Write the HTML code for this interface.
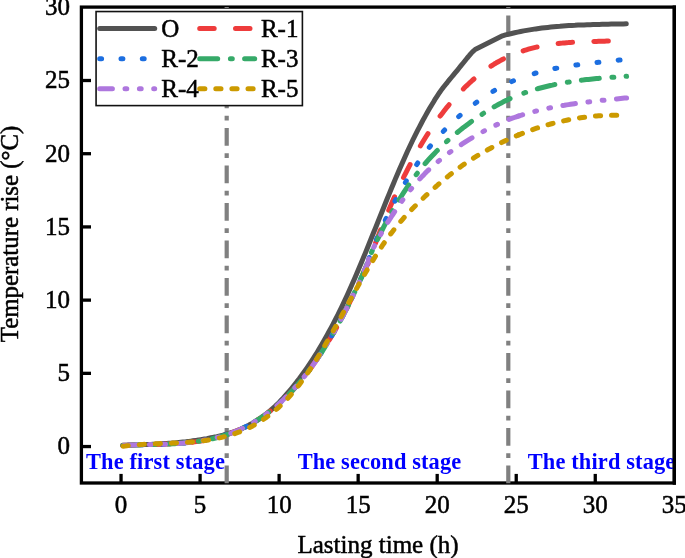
<!DOCTYPE html>
<html><head><meta charset="utf-8"><style>
html,body{margin:0;padding:0;background:#fff;}
svg{display:block;will-change:transform;}
</style></head><body>
<svg width="685" height="558" viewBox="0 0 685 558">
<rect width="685" height="558" fill="#fff"/>
<rect x="81.4" y="7.1" width="592.9" height="475.9" fill="none" stroke="#000" stroke-width="3.3"/>
<line x1="226.7" y1="483.2" x2="226.7" y2="7" stroke="#808080" stroke-width="4.2" stroke-dasharray="17.6 7.6 4.7 7.6"/>
<line x1="508.3" y1="483.2" x2="508.3" y2="7" stroke="#808080" stroke-width="4.2" stroke-dasharray="17.6 7.6 4.7 7.6"/>
<path d="M122.7,445.6 L124.7,445.5 L126.7,445.4 L128.7,445.3 L130.7,445.2 L132.7,445.1 L134.7,445.0 L136.7,445.0 L138.7,444.9 L140.7,444.8 L142.8,444.7 L144.8,444.6 L146.8,444.6 L148.8,444.5 L150.8,444.4 L152.8,444.3 L154.8,444.2 L156.8,444.1 L158.8,444.0 L160.8,443.9 L162.8,443.7 L164.8,443.6 L166.8,443.5 L168.8,443.3 L170.8,443.2 L172.8,443.0 L174.8,442.9 L176.8,442.7 L178.8,442.5 L180.8,442.3 L182.9,442.1 L184.9,441.9 L186.9,441.6 L188.9,441.4 L190.9,441.1 L192.9,440.8 L194.9,440.6 L196.9,440.3 L198.9,439.9 L200.9,439.6 L202.9,439.3 L204.9,438.9 L206.9,438.6 L208.9,438.2 L210.9,437.8 L212.9,437.4 L214.9,437.0 L216.9,436.6 L218.9,436.1 L221.0,435.6 L223.0,435.1 L225.0,434.5 L227.0,434.0 L229.0,433.4 L231.0,432.7 L233.0,432.0 L235.0,431.3 L237.0,430.6 L239.0,429.8 L241.0,429.0 L243.0,428.1 L245.0,427.1 L247.0,426.2 L249.0,425.1 L251.0,424.1 L253.0,422.9 L255.0,421.7 L257.0,420.5 L259.1,419.2 L261.1,417.8 L263.1,416.4 L265.1,414.9 L267.1,413.3 L269.1,411.6 L271.1,409.9 L273.1,408.1 L275.1,406.3 L277.1,404.4 L279.1,402.4 L281.1,400.3 L283.1,398.2 L285.1,396.0 L287.1,393.7 L289.1,391.4 L291.1,389.0 L293.1,386.5 L295.1,384.0 L297.1,381.4 L299.2,378.8 L301.2,376.1 L303.2,373.3 L305.2,370.5 L307.2,367.6 L309.2,364.6 L311.2,361.6 L313.2,358.5 L315.2,355.4 L317.2,352.2 L319.2,348.9 L321.2,345.5 L323.2,342.1 L325.2,338.6 L327.2,335.0 L329.2,331.3 L331.2,327.6 L333.2,323.8 L335.2,319.9 L337.3,316.0 L339.3,311.9 L341.3,307.8 L343.3,303.6 L345.3,299.3 L347.3,295.0 L349.3,290.5 L351.3,286.0 L353.3,281.5 L355.3,276.9 L357.3,272.2 L359.3,267.5 L361.3,262.7 L363.3,257.9 L365.3,253.1 L367.3,248.2 L369.3,243.2 L371.3,238.3 L373.3,233.3 L375.4,228.3 L377.4,223.3 L379.4,218.2 L381.4,213.2 L383.4,208.2 L385.4,203.2 L387.4,198.3 L389.4,193.4 L391.4,188.5 L393.4,183.7 L395.4,178.9 L397.4,174.2 L399.4,169.5 L401.4,164.9 L403.4,160.4 L405.4,155.9 L407.4,151.5 L409.4,147.2 L411.4,143.0 L413.4,138.8 L415.5,134.7 L417.5,130.7 L419.5,126.8 L421.5,123.0 L423.5,119.2 L425.5,115.6 L427.5,112.0 L429.5,108.6 L431.5,105.2 L433.5,102.0 L435.5,98.6 L437.5,95.6 L439.4,92.7 L441.4,89.9 L443.4,87.2 L445.4,84.7 L447.4,82.3 L449.3,79.9 L451.3,77.5 L453.3,75.1 L455.3,72.7 L457.3,70.3 L459.3,67.8 L461.2,65.4 L463.2,63.0 L465.2,60.5 L467.2,58.0 L469.2,55.7 L471.1,53.4 L473.1,51.3 L475.1,49.5 L502.5,35.8 L505.5,34.9 L508.5,34.2 L511.6,33.5 L514.6,32.8 L517.6,32.1 L520.6,31.5 L523.6,30.9 L526.7,30.4 L529.7,29.9 L532.7,29.4 L535.7,28.9 L538.7,28.5 L541.8,28.1 L544.8,27.7 L547.8,27.4 L550.8,27.1 L553.8,26.8 L556.9,26.5 L559.9,26.3 L562.9,26.0 L565.9,25.8 L568.9,25.6 L571.9,25.4 L575.0,25.3 L578.0,25.1 L581.0,25.0 L584.0,24.9 L587.0,24.8 L590.1,24.7 L593.1,24.6 L596.1,24.5 L599.1,24.4 L602.1,24.3 L605.2,24.3 L608.2,24.2 L611.2,24.1 L614.2,24.1 L617.2,24.0 L620.3,23.9 L623.3,23.9 L626.3,23.8" fill="none" stroke="#525252" stroke-width="5" stroke-linecap="round" stroke-linejoin="round"/>
<path d="M122.7,445.3 L124.7,445.2 L126.7,445.2 L128.7,445.1 L130.7,445.0 L132.7,444.9 L134.7,444.9 L136.7,444.8 L138.7,444.8 L140.6,444.7 L142.6,444.7 L144.6,444.6 L146.6,444.6 L148.6,444.6 L150.6,444.5 L152.6,444.5 L154.6,444.4 L156.6,444.4 L158.6,444.3 L160.6,444.3 L162.6,444.2 L164.6,444.2 L166.6,444.1 L168.6,444.0 L170.6,443.9 L172.6,443.8 L174.6,443.7 L176.5,443.6 L178.5,443.5 L180.5,443.3 L182.5,443.2 L184.5,443.0 L186.5,442.8 L188.5,442.6 L190.5,442.4 L192.5,442.2 L194.5,441.9 L196.5,441.6 L198.5,441.3 L200.5,441.0 L202.5,440.7 L204.5,440.3 L206.5,440.0 L208.5,439.6 L210.4,439.1 L212.4,438.7 L214.4,438.2 L216.4,437.7 L218.4,437.2 L220.4,436.6 L222.4,436.0 L224.4,435.4 L226.4,434.8 L228.4,434.1 L230.4,433.4 L232.4,432.6 L234.4,431.8 L236.4,431.0 L238.4,430.2 L240.4,429.3 L242.4,428.3 L244.4,427.4 L246.3,426.4 L248.3,425.3 L250.3,424.2 L252.3,423.1 L254.3,422.0 L256.3,420.7 L258.3,419.5 L260.3,418.2 L262.3,416.8 L264.3,415.5 L266.3,414.0 L268.3,412.5 L270.3,411.0 L272.3,409.4 L274.3,407.8 L276.3,406.1 L278.3,404.4 L280.2,402.6 L282.2,400.7 L284.2,398.9 L286.2,396.9 L288.2,394.9 L290.2,392.8 L292.2,390.7 L294.2,388.5 L296.2,386.3 L298.2,384.0 L300.2,381.7 L302.2,379.2 L304.2,376.8 L306.2,374.2 L308.2,371.6 L310.2,368.9 L312.2,366.2 L314.1,363.4 L316.1,360.6 L318.1,357.6 L320.1,354.7 L322.1,351.6 L324.1,348.5 L326.1,345.3 L328.1,342.0 L330.1,338.7 L332.1,335.3 L334.1,331.9 L336.1,328.4 L338.1,324.8 L340.1,321.1 L342.1,317.4 L344.1,313.6 L346.1,309.7 L348.1,305.8 L350.0,301.8 L352.0,297.7 L354.0,293.5 L356.0,289.3 L358.0,285.0 L360.0,280.6 L362.0,276.2 L364.0,271.6 L366.0,267.0 L368.0,263.9 L370.0,258.2 L372.0,252.7 L374.0,247.2 L376.0,241.9 L378.0,236.6 L380.0,231.4 L382.0,226.3 L384.0,221.4 L386.0,216.5 L388.1,211.6 L390.1,206.9 L392.1,202.3 L394.1,197.8 L396.1,193.3 L398.1,188.9 L400.1,184.7 L402.1,180.5 L404.1,176.3 L406.1,172.3 L408.1,168.4 L410.1,164.5 L412.1,160.7 L414.1,157.0 L416.1,153.4 L418.1,149.9 L420.1,146.4 L422.1,143.0 L424.1,139.7 L426.1,136.5 L428.1,133.4 L430.1,130.3 L432.2,127.3 L434.2,124.4 L436.2,121.5 L438.2,118.7 L440.2,116.0 L442.2,113.4 L444.2,110.8 L446.2,108.2 L448.2,105.8 L450.2,103.3 L452.2,101.0 L454.2,98.7 L456.2,96.5 L458.2,94.3 L460.2,92.2 L462.2,90.1 L464.2,88.1 L466.2,86.1 L468.2,84.2 L470.2,82.3 L472.2,80.5 L474.2,78.8 L476.3,77.1 L478.3,75.4 L480.3,73.8 L482.3,72.3 L484.3,70.8 L486.3,69.3 L488.3,67.9 L490.3,66.6 L492.3,65.3 L494.3,64.0 L496.3,62.8 L498.3,61.7 L500.3,60.6 L502.3,59.5 L504.3,58.5 L506.3,57.5 L508.3,56.6 L510.3,55.7 L512.3,54.8 L514.3,54.0 L516.3,53.2 L518.4,52.5 L520.4,51.8 L522.4,51.1 L524.4,50.4 L526.4,49.8 L528.4,49.2 L530.4,48.6 L532.4,48.1 L534.4,47.6 L536.4,47.1 L538.4,46.7 L540.4,46.3 L542.4,45.9 L544.4,45.5 L546.4,45.1 L548.4,44.8 L550.4,44.5 L552.4,44.2 L554.4,43.9 L556.4,43.7 L558.4,43.5 L560.4,43.2 L562.5,43.1 L564.5,42.9 L566.5,42.7 L568.5,42.6 L570.5,42.4 L572.5,42.3 L574.5,42.2 L576.5,42.1 L578.5,42.0 L580.5,41.9 L582.5,41.8 L584.5,41.7 L586.5,41.7 L588.5,41.6 L590.5,41.5 L592.5,41.5 L594.5,41.4 L596.5,41.4 L598.5,41.3 L600.5,41.3 L602.5,41.2 L604.5,41.2 L606.6,41.1 L608.6,41.1 L610.6,41.0 L612.6,40.9 L614.6,40.9 L616.6,40.8 L618.6,40.7 L620.6,40.6 L622.6,40.5 L624.6,40.4 L626.6,40.3" fill="none" stroke="#ee3c3c" stroke-width="5" stroke-linecap="round" stroke-linejoin="round" stroke-dasharray="14.5 21.3" stroke-dashoffset="3.0"/>
<path d="M122.7,445.3 L124.7,445.2 L126.7,445.2 L128.7,445.1 L130.7,445.0 L132.7,444.9 L134.7,444.9 L136.7,444.8 L138.7,444.8 L140.6,444.7 L142.6,444.7 L144.6,444.6 L146.6,444.6 L148.6,444.6 L150.6,444.5 L152.6,444.5 L154.6,444.4 L156.6,444.4 L158.6,444.3 L160.6,444.3 L162.6,444.2 L164.6,444.2 L166.6,444.1 L168.6,444.0 L170.6,443.9 L172.6,443.8 L174.6,443.7 L176.5,443.6 L178.5,443.5 L180.5,443.3 L182.5,443.2 L184.5,443.0 L186.5,442.8 L188.5,442.6 L190.5,442.4 L192.5,442.2 L194.5,441.9 L196.5,441.6 L198.5,441.3 L200.5,441.0 L202.5,440.7 L204.5,440.3 L206.5,440.0 L208.5,439.6 L210.4,439.1 L212.4,438.7 L214.4,438.2 L216.4,437.7 L218.4,437.2 L220.4,436.6 L222.4,436.0 L224.4,435.4 L226.4,434.7 L228.4,434.1 L230.4,433.4 L232.4,432.6 L234.4,431.8 L236.4,431.0 L238.4,430.2 L240.4,429.3 L242.4,428.3 L244.4,427.4 L246.3,426.4 L248.3,425.3 L250.3,424.2 L252.3,423.1 L254.3,422.0 L256.3,420.7 L258.3,419.5 L260.3,418.2 L262.3,416.8 L264.3,415.5 L266.3,414.0 L268.3,412.5 L270.3,411.0 L272.3,409.4 L274.3,407.8 L276.3,406.1 L278.3,404.4 L280.3,402.6 L282.2,400.7 L284.2,398.8 L286.2,396.9 L288.2,394.9 L290.2,392.8 L292.2,390.7 L294.2,388.5 L296.2,386.3 L298.2,384.0 L300.2,381.6 L302.2,379.2 L304.2,376.7 L306.2,374.2 L308.2,371.6 L310.2,368.9 L312.2,366.2 L314.2,363.4 L316.1,360.6 L318.1,357.6 L320.1,354.6 L322.1,351.6 L324.1,348.5 L326.1,345.3 L328.1,342.0 L330.1,338.7 L332.1,335.3 L334.1,331.9 L336.1,328.4 L338.1,324.8 L340.1,321.1 L342.1,317.4 L344.1,313.6 L346.1,309.7 L348.1,305.8 L350.1,301.7 L352.0,297.7 L354.0,293.5 L356.0,289.3 L358.0,285.0 L360.0,280.6 L362.0,276.1 L364.0,271.6 L366.0,267.0 L368.0,262.3 L370.0,254.7 L372.0,249.9 L374.0,245.2 L376.0,240.6 L378.0,236.0 L380.0,231.6 L382.0,227.2 L384.0,223.0 L386.0,218.8 L388.0,214.7 L390.1,210.6 L392.1,206.7 L394.1,202.8 L396.1,199.1 L398.1,195.4 L400.1,191.7 L402.1,188.2 L404.1,184.7 L406.1,181.3 L408.1,178.0 L410.1,174.7 L412.1,171.6 L414.1,168.5 L416.1,165.4 L418.1,162.5 L420.1,159.6 L422.1,156.8 L424.1,154.1 L426.1,151.5 L428.1,148.9 L430.1,146.4 L432.1,143.9 L434.2,141.5 L436.2,139.2 L438.2,136.9 L440.2,134.7 L442.2,132.5 L444.2,130.4 L446.2,128.4 L448.2,126.4 L450.2,124.4 L452.2,122.5 L454.2,120.6 L456.2,118.8 L458.2,117.0 L460.2,115.3 L462.2,113.6 L464.2,111.9 L466.2,110.2 L468.2,108.6 L470.2,107.1 L472.2,105.5 L474.2,104.0 L476.3,102.5 L478.3,101.1 L480.3,99.7 L482.3,98.3 L484.3,96.9 L486.3,95.6 L488.3,94.3 L490.3,93.0 L492.3,91.8 L494.3,90.6 L496.3,89.4 L498.3,88.3 L500.3,87.2 L502.3,86.1 L504.3,85.1 L506.3,84.1 L508.3,83.2 L510.3,82.2 L512.3,81.3 L514.3,80.5 L516.3,79.7 L518.3,78.9" fill="none" stroke="#1c6ee0" stroke-width="5" stroke-linecap="round" stroke-linejoin="round" stroke-dasharray="1.9 19.4" stroke-dashoffset="3.2"/>
<path d="M518.3,78.9 L520.4,78.1 L522.4,77.4 L524.4,76.7 L526.4,76.0 L528.4,75.4 L530.4,74.7 L532.4,74.1 L534.4,73.5 L536.4,72.9 L538.4,72.4 L540.4,71.9 L542.4,71.4 L544.4,70.9 L546.4,70.4 L548.4,69.9 L550.4,69.5 L552.4,69.1 L554.4,68.6 L556.4,68.2 L558.4,67.9 L560.4,67.5 L562.5,67.1 L564.5,66.8 L566.5,66.5 L568.5,66.1 L570.5,65.8 L572.5,65.5 L574.5,65.2 L576.5,65.0 L578.5,64.7 L580.5,64.4 L582.5,64.2 L584.5,63.9 L586.5,63.7 L588.5,63.4 L590.5,63.2 L592.5,63.0 L594.5,62.8 L596.5,62.5 L598.5,62.3 L600.5,62.1 L602.5,61.9 L604.5,61.7 L606.6,61.5 L608.6,61.2 L610.6,61.0 L612.6,60.8 L614.6,60.6 L616.6,60.4 L618.6,60.1 L620.6,59.9 L622.6,59.7 L624.6,59.4 L626.6,59.2" fill="none" stroke="#1c6ee0" stroke-width="5" stroke-linecap="round" stroke-linejoin="round" stroke-dasharray="1.9 19.4" stroke-dashoffset="4.54"/>
<path d="M122.7,445.3 L124.7,445.2 L126.7,445.2 L128.7,445.1 L130.7,445.0 L132.7,444.9 L134.7,444.9 L136.7,444.8 L138.7,444.8 L140.6,444.7 L142.6,444.7 L144.6,444.6 L146.6,444.6 L148.6,444.6 L150.6,444.5 L152.6,444.5 L154.6,444.4 L156.6,444.4 L158.6,444.3 L160.6,444.3 L162.6,444.2 L164.6,444.2 L166.6,444.1 L168.6,444.0 L170.6,443.9 L172.6,443.8 L174.6,443.7 L176.5,443.6 L178.5,443.5 L180.5,443.3 L182.5,443.2 L184.5,443.0 L186.5,442.8 L188.5,442.6 L190.5,442.4 L192.5,442.2 L194.5,441.9 L196.5,441.6 L198.5,441.3 L200.5,441.0 L202.5,440.7 L204.5,440.3 L206.5,440.0 L208.5,439.6 L210.4,439.1 L212.4,438.7 L214.4,438.2 L216.4,437.7 L218.4,437.2 L220.4,436.6 L222.4,436.0 L224.4,435.4 L226.4,434.8 L228.4,434.1 L230.4,433.4 L232.4,432.6 L234.4,431.8 L236.4,431.0 L238.4,430.2 L240.4,429.3 L242.4,428.3 L244.4,427.4 L246.3,426.4 L248.3,425.3 L250.3,424.2 L252.3,423.1 L254.3,422.0 L256.3,420.7 L258.3,419.5 L260.3,418.2 L262.3,416.8 L264.3,415.5 L266.3,414.0 L268.3,412.5 L270.3,411.0 L272.3,409.4 L274.3,407.8 L276.3,406.1 L278.3,404.4 L280.2,402.6 L282.2,400.7 L284.2,398.9 L286.2,396.9 L288.2,394.9 L290.2,392.8 L292.2,390.7 L294.2,388.5 L296.2,386.3 L298.2,384.0 L300.2,381.7 L302.2,379.2 L304.2,376.8 L306.2,374.2 L308.2,371.6 L310.2,368.9 L312.2,366.2 L314.1,363.4 L316.1,360.6 L318.1,357.6 L320.1,354.7 L322.1,351.6 L324.1,348.5 L326.1,345.3 L328.1,342.0 L330.1,338.7 L332.1,335.3 L334.1,331.9 L336.1,328.4 L338.1,324.8 L340.1,321.1 L342.1,317.4 L344.1,313.6 L346.1,309.7 L348.1,305.8 L350.0,301.8 L352.0,297.7 L354.0,293.5 L356.0,289.3 L358.0,285.0 L360.0,280.6 L362.0,276.2 L364.0,271.6 L366.0,267.0 L368.0,260.2 L370.0,255.7 L372.0,251.2 L374.0,246.8 L376.0,242.6 L378.0,238.4 L380.0,234.3 L382.0,230.3 L384.0,226.4 L386.0,222.6 L388.1,218.9 L390.1,215.2 L392.1,211.7 L394.1,208.2 L396.1,204.8 L398.1,201.5 L400.1,198.2 L402.1,195.0 L404.1,191.9 L406.1,188.9 L408.1,185.9 L410.1,183.1 L412.1,180.2 L414.1,177.5 L416.1,174.8 L418.1,172.2 L420.1,169.7 L422.1,167.2 L424.1,164.8 L426.1,162.5 L428.1,160.2 L430.1,158.0 L432.2,155.8 L434.2,153.7 L436.2,151.6 L438.2,149.6 L440.2,147.7 L442.2,145.7 L444.2,143.8 L446.2,142.0 L448.2,140.2 L450.2,138.4 L452.2,136.7 L454.2,135.0 L456.2,133.3 L458.2,131.7 L460.2,130.1 L462.2,128.5 L464.2,126.9 L466.2,125.4 L468.2,123.9 L470.2,122.4 L472.2,121.0 L474.2,119.6 L476.3,118.2 L478.3,116.8 L480.3,115.4 L482.3,114.1 L484.3,112.8 L486.3,111.5 L488.3,110.3 L490.3,109.1 L492.3,107.9 L494.3,106.7 L496.3,105.6 L498.3,104.5 L500.3,103.4 L502.3,102.4 L504.3,101.3 L506.3,100.4 L508.3,99.4 L510.3,98.5 L512.3,97.6 L514.3,96.8 L516.3,95.9 L518.4,95.1" fill="none" stroke="#36aa69" stroke-width="5" stroke-linecap="round" stroke-linejoin="round" stroke-dasharray="18 12.7 1.9 12.3" stroke-dashoffset="44.8"/>
<path d="M518.4,95.1 L520.4,94.4 L522.4,93.6 L524.4,92.9 L526.4,92.2 L528.4,91.6 L530.4,90.9 L532.4,90.3 L534.4,89.7 L536.4,89.1 L538.4,88.5 L540.4,88.0 L542.4,87.5 L544.4,87.0 L546.4,86.5 L548.4,86.0 L550.4,85.5 L552.4,85.1 L554.4,84.6 L556.4,84.2 L558.4,83.8 L560.4,83.4 L562.5,83.1 L564.5,82.7 L566.5,82.4 L568.5,82.1 L570.5,81.7 L572.5,81.4 L574.5,81.1 L576.5,80.9 L578.5,80.6 L580.5,80.3 L582.5,80.1 L584.5,79.8 L586.5,79.6 L588.5,79.4 L590.5,79.2 L592.5,79.0 L594.5,78.8 L596.5,78.6 L598.5,78.4 L600.5,78.2 L602.5,78.0 L604.5,77.9 L606.6,77.7 L608.6,77.6 L610.6,77.4 L612.6,77.3 L614.6,77.1 L616.6,77.0 L618.6,76.8 L620.6,76.7 L622.6,76.6 L624.6,76.4 L626.6,76.3" fill="none" stroke="#36aa69" stroke-width="5" stroke-linecap="round" stroke-linejoin="round" stroke-dasharray="18 12.7 1.9 12.3" stroke-dashoffset="24.91"/>
<path d="M122.7,445.3 L124.7,445.2 L126.7,445.2 L128.7,445.1 L130.7,445.0 L132.7,444.9 L134.7,444.9 L136.7,444.8 L138.7,444.8 L140.6,444.7 L142.6,444.7 L144.6,444.6 L146.6,444.6 L148.6,444.6 L150.6,444.5 L152.6,444.5 L154.6,444.4 L156.6,444.4 L158.6,444.3 L160.6,444.3 L162.6,444.2 L164.6,444.2 L166.6,444.1 L168.6,444.0 L170.6,443.9 L172.6,443.8 L174.6,443.7 L176.5,443.6 L178.5,443.5 L180.5,443.3 L182.5,443.2 L184.5,443.0 L186.5,442.8 L188.5,442.6 L190.5,442.4 L192.5,442.2 L194.5,441.9 L196.5,441.6 L198.5,441.3 L200.5,441.0 L202.5,440.7 L204.5,440.3 L206.5,440.0 L208.5,439.6 L210.4,439.1 L212.4,438.7 L214.4,438.2 L216.4,437.7 L218.4,437.2 L220.4,436.6 L222.4,436.0 L224.4,435.4 L226.4,434.7 L228.4,434.1 L230.4,433.4 L232.4,432.6 L234.4,431.8 L236.4,431.0 L238.4,430.2 L240.4,429.3 L242.4,428.3 L244.4,427.4 L246.3,426.4 L248.3,425.3 L250.3,424.2 L252.3,423.1 L254.3,422.0 L256.3,420.7 L258.3,419.5 L260.3,418.2 L262.3,416.8 L264.3,415.5 L266.3,414.0 L268.3,412.5 L270.3,411.0 L272.3,409.4 L274.3,407.8 L276.3,406.1 L278.3,404.4 L280.3,402.6 L282.2,400.7 L284.2,398.8 L286.2,396.9 L288.2,394.9 L290.2,392.8 L292.2,390.7 L294.2,388.5 L296.2,386.3 L298.2,384.0 L300.2,381.6 L302.2,379.2 L304.2,376.7 L306.2,374.2 L308.2,371.6 L310.2,368.9 L312.2,366.2 L314.2,363.4 L316.1,360.6 L318.1,357.6 L320.1,354.6 L322.1,351.6 L324.1,348.5 L326.1,345.3 L328.1,342.0 L330.1,338.7 L332.1,335.3 L334.1,331.9 L336.1,328.4 L338.1,324.8 L340.1,321.1 L342.1,317.4 L344.1,313.6 L346.1,309.7 L348.1,305.8 L350.1,301.7 L352.0,297.7 L354.0,293.5 L356.0,289.3 L358.0,285.0 L360.0,280.6 L362.0,276.1 L364.0,271.6 L366.0,267.0 L368.0,262.3 L370.0,254.6 L372.0,250.6 L374.0,246.8 L376.0,243.0 L378.0,239.3 L380.0,235.6 L382.0,232.1 L384.0,228.6 L386.0,225.2 L388.0,221.9 L390.1,218.7 L392.1,215.5 L394.1,212.5 L396.1,209.4 L398.1,206.5 L400.1,203.6 L402.1,200.8 L404.1,198.1 L406.1,195.4 L408.1,192.8 L410.1,190.3 L412.1,187.8 L414.1,185.4 L416.1,183.1 L418.1,180.8 L420.1,178.6 L422.1,176.4 L424.1,174.4 L426.1,172.3 L428.1,170.4 L430.1,168.5 L432.1,166.6 L434.2,164.8 L436.2,163.1 L438.2,161.4 L440.2,159.7 L442.2,158.1 L444.2,156.5 L446.2,155.0 L448.2,153.5 L450.2,152.0 L452.2,150.6 L454.2,149.2 L456.2,147.8 L458.2,146.5 L460.2,145.2 L462.2,143.9 L464.2,142.6 L466.2,141.3 L468.2,140.1 L470.2,138.9 L472.2,137.7 L474.2,136.5 L476.3,135.4 L478.3,134.2 L480.3,133.1 L482.3,132.0 L484.3,130.9 L486.3,129.9 L488.3,128.8 L490.3,127.8 L492.3,126.8 L494.3,125.8 L496.3,124.9 L498.3,124.0 L500.3,123.1 L502.3,122.2 L504.3,121.3 L506.3,120.5 L508.3,119.7 L510.3,118.9 L512.3,118.2 L514.3,117.5 L516.3,116.8 L518.3,116.1" fill="none" stroke="#ae77de" stroke-width="5" stroke-linecap="round" stroke-linejoin="round" stroke-dasharray="12.7 12.6 1.8 12.6 1.8 12.5" stroke-dashoffset="52.6"/>
<path d="M518.3,116.1 L520.4,115.5 L522.4,114.8 L524.4,114.2 L526.4,113.7 L528.4,113.1 L530.4,112.5 L532.4,112.0 L534.4,111.5 L536.4,111.0 L538.4,110.5 L540.4,110.0 L542.4,109.5 L544.4,109.1 L546.4,108.6 L548.4,108.2 L550.4,107.8 L552.4,107.4 L554.4,107.0 L556.4,106.7 L558.4,106.3 L560.4,105.9 L562.5,105.6 L564.5,105.3 L566.5,104.9 L568.5,104.6 L570.5,104.3 L572.5,104.0 L574.5,103.7 L576.5,103.4 L578.5,103.2 L580.5,102.9 L582.5,102.6 L584.5,102.4 L586.5,102.1 L588.5,101.9 L590.5,101.7 L592.5,101.4 L594.5,101.2 L596.5,101.0 L598.5,100.8 L600.5,100.6 L602.5,100.3 L604.5,100.1 L606.6,99.9 L608.6,99.7 L610.6,99.5 L612.6,99.3 L614.6,99.1 L616.6,98.9 L618.6,98.7 L620.6,98.5 L622.6,98.3 L624.6,98.1 L626.6,97.9" fill="none" stroke="#ae77de" stroke-width="5" stroke-linecap="round" stroke-linejoin="round" stroke-dasharray="12.7 12.6 1.8 12.6 1.8 12.5" stroke-dashoffset="8.14"/>
<path d="M122.7,446.4 L124.7,446.1 L126.7,445.8 L128.7,445.6 L130.7,445.4 L132.7,445.2 L134.7,445.0 L136.7,444.9 L138.7,444.7 L140.7,444.6 L142.7,444.4 L144.7,444.3 L146.7,444.2 L148.7,444.1 L150.7,444.0 L152.7,443.9 L154.7,443.8 L156.7,443.7 L158.7,443.7 L160.7,443.6 L162.7,443.5 L164.7,443.4 L166.7,443.3 L168.7,443.3 L170.7,443.2 L172.7,443.1 L174.7,443.0 L176.7,442.9 L178.7,442.8 L180.7,442.7 L182.7,442.6 L184.7,442.5 L186.7,442.3 L188.7,442.2 L190.7,442.0 L192.7,441.9 L194.7,441.7 L196.7,441.5 L198.7,441.3 L200.7,441.0 L202.7,440.8 L204.7,440.5 L206.7,440.2 L208.7,439.9 L210.7,439.6 L212.7,439.2 L214.7,438.9 L216.7,438.5 L218.7,438.0 L220.7,437.6 L222.7,437.1 L224.7,436.6 L226.7,436.1 L228.7,435.5 L230.7,434.9 L232.7,434.3 L234.7,433.6 L236.7,432.9 L238.7,432.2 L240.7,431.4 L242.7,430.6 L244.7,429.7 L246.7,428.8 L248.7,427.9 L250.7,426.9 L252.7,425.9 L254.7,424.8 L256.7,423.6 L258.7,422.4 L260.7,421.2 L262.7,419.9 L264.7,418.5 L266.7,417.1 L268.7,415.6 L270.7,414.1 L272.7,412.5 L274.7,410.8 L276.7,409.1 L278.7,407.3 L280.7,405.5 L282.7,403.5 L284.7,401.5 L286.7,399.4 L288.7,397.3 L290.7,395.1 L292.7,392.8 L294.7,390.4 L296.7,387.9 L298.7,385.4 L300.7,382.7 L302.7,380.0 L304.7,377.2 L306.7,374.4 L308.7,371.4 L310.7,368.4 L312.7,365.4 L314.7,362.2 L316.7,359.0 L318.7,355.8 L320.7,352.5 L322.7,349.2 L324.7,345.8 L326.7,342.3 L328.7,338.9" fill="none" stroke="#cc9a00" stroke-width="5" stroke-linecap="round" stroke-linejoin="round" stroke-dasharray="5.2 10.9" stroke-dashoffset="15.6"/>
<path d="M328.7,338.9 L330.7,335.4 L332.7,331.8 L334.7,328.3 L336.7,324.7 L338.7,321.1 L340.7,317.5 L342.7,313.8 L344.7,310.2 L346.7,306.5 L348.7,302.8 L350.7,299.2 L352.7,295.5 L354.7,291.9 L356.7,288.3 L358.7,284.7 L360.7,281.1 L362.7,277.6 L364.7,274.1 L366.7,270.7 L368.7,267.3 L370.7,263.9 L372.7,260.7 L374.7,257.4 L376.6,254.3 L378.6,251.2 L380.6,248.2 L382.6,245.2 L384.6,242.3 L386.6,239.5 L388.6,236.7 L390.6,234.0 L392.6,231.4 L394.6,228.9 L396.6,226.4 L398.6,223.9 L400.6,221.6 L402.6,219.3 L404.6,217.0 L406.6,214.8 L408.6,212.7 L410.6,210.6 L412.6,208.5 L414.6,206.5 L416.6,204.5 L418.6,202.5 L420.6,200.6 L422.6,198.7 L424.6,196.8 L426.6,194.9 L428.6,193.1 L430.6,191.3 L432.6,189.5 L434.6,187.7 L436.6,186.0 L438.6,184.2 L440.6,182.5 L442.6,180.8 L444.6,179.2 L446.6,177.5 L448.6,175.9 L450.6,174.3 L452.6,172.8 L454.6,171.2 L456.6,169.7 L458.6,168.2 L460.6,166.8 L462.6,165.3 L464.6,163.9 L466.6,162.6 L468.6,161.2 L470.6,159.9 L472.6,158.7 L474.6,157.4 L476.6,156.2 L478.6,155.0 L480.6,153.8 L482.6,152.7 L484.6,151.5 L486.6,150.4 L488.6,149.3 L490.6,148.2 L492.6,147.1 L494.6,146.1 L496.6,145.1 L498.6,144.1 L500.6,143.1 L502.6,142.1 L504.6,141.1 L506.6,140.2 L508.6,139.3 L510.6,138.4 L512.6,137.5 L514.6,136.6 L516.6,135.8 L518.6,134.9" fill="none" stroke="#cc9a00" stroke-width="5" stroke-linecap="round" stroke-linejoin="round" stroke-dasharray="5.2 10.9" stroke-dashoffset="6.77"/>
<path d="M518.6,134.9 L520.6,134.1 L522.6,133.3 L524.6,132.5 L526.6,131.8 L528.6,131.0 L530.6,130.3 L532.6,129.6 L534.6,128.9 L536.6,128.2 L538.6,127.6 L540.6,126.9 L542.6,126.3 L544.6,125.7 L546.6,125.1 L548.6,124.6 L550.6,124.0 L552.6,123.5 L554.6,123.0 L556.6,122.5 L558.6,122.0 L560.6,121.5 L562.6,121.1 L564.6,120.6 L566.6,120.2 L568.6,119.8 L570.6,119.4 L572.6,119.1 L574.6,118.7 L576.6,118.4 L578.6,118.1 L580.6,117.8 L582.6,117.5 L584.6,117.2 L586.6,117.0 L588.6,116.7 L590.6,116.5 L592.6,116.3 L594.6,116.1 L596.6,116.0 L598.6,115.8 L600.6,115.7 L602.6,115.6 L604.6,115.5 L606.6,115.4 L608.6,115.3 L610.6,115.2 L612.6,115.2 L614.6,115.2 L616.6,115.2 L618.6,115.2 L620.6,115.2 L622.6,115.2 L624.6,115.3 L626.6,115.3" fill="none" stroke="#cc9a00" stroke-width="5" stroke-linecap="round" stroke-linejoin="round" stroke-dasharray="5.2 10.9" stroke-dashoffset="1.06"/>
<line x1="121.05" y1="483" x2="121.05" y2="473.9" stroke="#000" stroke-width="3.3"/>
<text transform="translate(121.05,512.6) scale(1,1.03)" text-anchor="middle" font-family="Liberation Serif, serif" stroke="#000" stroke-width="0.5" font-size="25">0</text>
<line x1="200.08" y1="483" x2="200.08" y2="473.9" stroke="#000" stroke-width="3.3"/>
<text transform="translate(200.08,512.6) scale(1,1.03)" text-anchor="middle" font-family="Liberation Serif, serif" stroke="#000" stroke-width="0.5" font-size="25">5</text>
<line x1="279.12" y1="483" x2="279.12" y2="473.9" stroke="#000" stroke-width="3.3"/>
<text transform="translate(279.12,512.6) scale(1,1.03)" text-anchor="middle" font-family="Liberation Serif, serif" stroke="#000" stroke-width="0.5" font-size="25">10</text>
<line x1="358.16" y1="483" x2="358.16" y2="473.9" stroke="#000" stroke-width="3.3"/>
<text transform="translate(358.16,512.6) scale(1,1.03)" text-anchor="middle" font-family="Liberation Serif, serif" stroke="#000" stroke-width="0.5" font-size="25">15</text>
<line x1="437.19" y1="483" x2="437.19" y2="473.9" stroke="#000" stroke-width="3.3"/>
<text transform="translate(437.19,512.6) scale(1,1.03)" text-anchor="middle" font-family="Liberation Serif, serif" stroke="#000" stroke-width="0.5" font-size="25">20</text>
<line x1="516.23" y1="483" x2="516.23" y2="473.9" stroke="#000" stroke-width="3.3"/>
<text transform="translate(516.23,512.6) scale(1,1.03)" text-anchor="middle" font-family="Liberation Serif, serif" stroke="#000" stroke-width="0.5" font-size="25">25</text>
<line x1="595.26" y1="483" x2="595.26" y2="473.9" stroke="#000" stroke-width="3.3"/>
<text transform="translate(595.26,512.6) scale(1,1.03)" text-anchor="middle" font-family="Liberation Serif, serif" stroke="#000" stroke-width="0.5" font-size="25">30</text>
<text transform="translate(674.29,512.6) scale(1,1.03)" text-anchor="middle" font-family="Liberation Serif, serif" stroke="#000" stroke-width="0.5" font-size="25">35</text>
<line x1="81.5" y1="446.55" x2="91" y2="446.55" stroke="#000" stroke-width="3.3"/>
<text transform="translate(70,454.35) scale(1,1.03)" text-anchor="end" font-family="Liberation Serif, serif" stroke="#000" stroke-width="0.5" font-size="25">0</text>
<line x1="81.5" y1="373.34" x2="91" y2="373.34" stroke="#000" stroke-width="3.3"/>
<text transform="translate(70,381.14) scale(1,1.03)" text-anchor="end" font-family="Liberation Serif, serif" stroke="#000" stroke-width="0.5" font-size="25">5</text>
<line x1="81.5" y1="300.13" x2="91" y2="300.13" stroke="#000" stroke-width="3.3"/>
<text transform="translate(70,307.93) scale(1,1.03)" text-anchor="end" font-family="Liberation Serif, serif" stroke="#000" stroke-width="0.5" font-size="25">10</text>
<line x1="81.5" y1="226.92" x2="91" y2="226.92" stroke="#000" stroke-width="3.3"/>
<text transform="translate(70,234.72) scale(1,1.03)" text-anchor="end" font-family="Liberation Serif, serif" stroke="#000" stroke-width="0.5" font-size="25">15</text>
<line x1="81.5" y1="153.71" x2="91" y2="153.71" stroke="#000" stroke-width="3.3"/>
<text transform="translate(70,161.51) scale(1,1.03)" text-anchor="end" font-family="Liberation Serif, serif" stroke="#000" stroke-width="0.5" font-size="25">20</text>
<line x1="81.5" y1="80.50" x2="91" y2="80.50" stroke="#000" stroke-width="3.3"/>
<text transform="translate(70,88.30) scale(1,1.03)" text-anchor="end" font-family="Liberation Serif, serif" stroke="#000" stroke-width="0.5" font-size="25">25</text>
<text transform="translate(70,15.09) scale(1,1.03)" text-anchor="end" font-family="Liberation Serif, serif" stroke="#000" stroke-width="0.5" font-size="25">30</text>
<text x="86" y="468.9" font-family="Liberation Serif, serif" font-weight="bold" font-size="22.4" fill="#0000ff" textLength="138.9" lengthAdjust="spacing">The first stage</text>
<text x="297.7" y="468.9" font-family="Liberation Serif, serif" font-weight="bold" font-size="22.4" fill="#0000ff" textLength="163.5" lengthAdjust="spacing">The second stage</text>
<text x="527.8" y="468.9" font-family="Liberation Serif, serif" font-weight="bold" font-size="22.4" fill="#0000ff" textLength="147.5" lengthAdjust="spacing">The third stage</text>
<line x1="674.3" y1="5.45" x2="674.3" y2="484.65" stroke="#000" stroke-width="3.3"/>
<text x="297.5" y="552.6" font-family="Liberation Serif, serif" stroke="#000" stroke-width="0.5" font-size="25">Lasting time (h)</text>
<text transform="translate(18.4,342.2) rotate(-90)" x="0" y="0" font-family="Liberation Serif, serif" stroke="#000" stroke-width="0.5" font-size="24.85">Temperature rise (°C)</text>
<rect x="96.07" y="11.54" width="206.33" height="94.06" fill="#fff" stroke="#111" stroke-width="1.6"/>
<line x1="99.7" y1="28.4" x2="154.7" y2="28.4" stroke="#525252" stroke-width="5" stroke-linecap="round"/>
<text transform="translate(161.30,36.60) scale(1,1.03)" font-family="Liberation Serif, serif" stroke="#000" stroke-width="0.5" font-size="25">O</text>
<line x1="199.7" y1="28.4" x2="254.7" y2="28.4" stroke="#ee3c3c" stroke-width="5" stroke-linecap="round" stroke-dasharray="14.5 21.3"/>
<text transform="translate(260.90,36.60) scale(1,1.03)" font-family="Liberation Serif, serif" stroke="#000" stroke-width="0.5" font-size="25">R-1</text>
<line x1="99.7" y1="58.7" x2="154.7" y2="58.7" stroke="#1c6ee0" stroke-width="5" stroke-linecap="round" stroke-dasharray="1.9 19.4"/>
<text transform="translate(161.30,66.90) scale(1,1.03)" font-family="Liberation Serif, serif" stroke="#000" stroke-width="0.5" font-size="25">R-2</text>
<line x1="199.7" y1="58.7" x2="254.7" y2="58.7" stroke="#36aa69" stroke-width="5" stroke-linecap="round" stroke-dasharray="18 12.7 1.9 12.3"/>
<text transform="translate(260.90,66.90) scale(1,1.03)" font-family="Liberation Serif, serif" stroke="#000" stroke-width="0.5" font-size="25">R-3</text>
<line x1="99.7" y1="88.8" x2="154.7" y2="88.8" stroke="#ae77de" stroke-width="5" stroke-linecap="round" stroke-dasharray="12.7 12.6 1.8 12.6 1.8 12.5"/>
<text transform="translate(161.30,97.00) scale(1,1.03)" font-family="Liberation Serif, serif" stroke="#000" stroke-width="0.5" font-size="25">R-4</text>
<line x1="199.7" y1="88.8" x2="254.7" y2="88.8" stroke="#cc9a00" stroke-width="5" stroke-linecap="round" stroke-dasharray="5.2 10.9"/>
<text transform="translate(260.90,97.00) scale(1,1.03)" font-family="Liberation Serif, serif" stroke="#000" stroke-width="0.5" font-size="25">R-5</text>
</svg>
</body></html>
